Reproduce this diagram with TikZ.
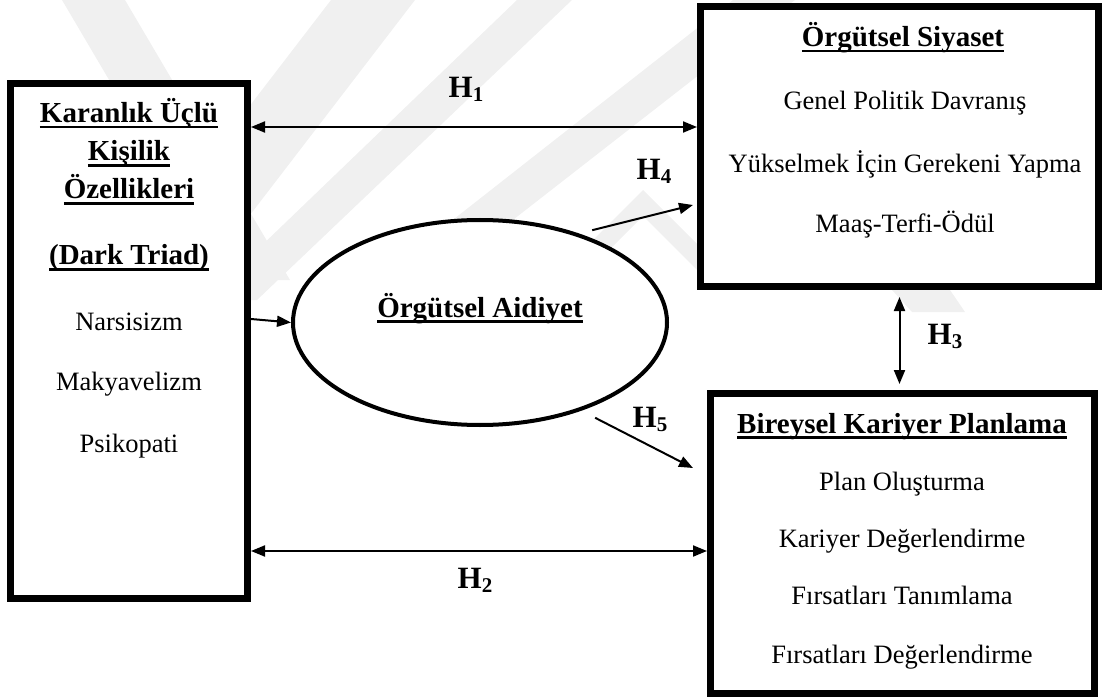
\documentclass[tikz,border=0pt]{standalone}
\usepackage{fontspec}
\setmainfont{Liberation Serif}
\usetikzlibrary{shapes.geometric,arrows.meta,calc}

% underline drawn just below the baseline, crossing descenders
\newcommand\ulbar[1]{\setbox0\hbox{#1}\rlap{\rule[-5.5pt]{\wd0}{2.2pt}}\box0}
% hypothesis label with a lowered index
\newcommand\hlab[1]{H\raisebox{-4pt}{\fontsize{21}{21}\selectfont #1}}

\tikzset{
  framebox/.style={draw, line width=7pt, fill=white, rectangle, inner sep=0pt},
  oval/.style={draw, ellipse, line width=4pt, fill=white, inner sep=0pt},
  ttl/.style={font=\fontsize{29}{34}\selectfont\bfseries, anchor=base, inner sep=0pt},
  itm/.style={font=\fontsize{26.5}{32}\selectfont, anchor=base, inner sep=0pt},
  hyp/.style={font=\fontsize{31}{36}\selectfont\bfseries, anchor=base, inner sep=0pt},
  arr/.style={line width=2pt, -{Triangle[length=14pt,width=11pt]}},
  darr/.style={line width=2pt, {Triangle[length=14pt,width=11pt]}-{Triangle[length=14pt,width=11pt]}},
  wm/.style={fill=black!6, draw=none},
}

\begin{document}
\begin{tikzpicture}[x=1pt,y=-1pt]
\useasboundingbox (0,0) rectangle (1104,698);

% faint background watermark bands
\fill[wm] (62,0) -- (125,0) -- (290,280) -- (227,280) -- cycle;
\fill[wm] (331,0) -- (415,0) -- (250,215) -- (166,215) -- cycle;
\fill[wm] (517,0) -- (572,0) -- (257,300) -- (205,300) -- cycle;
\fill[wm] (733,0) -- (795,0) -- (500,230) -- (440,230) -- cycle;
\fill[wm] (585,248) -- (643,190) -- (697,244) -- (697,270) -- (643,216) -- (611,248) -- cycle;
\fill[wm] (892,290) -- (950,290) -- (965,312) -- (912,312) -- cycle;

% frames
\node[framebox, minimum width=237pt, minimum height=515pt] (L) at (129,341) {};
\node[framebox, minimum width=398pt, minimum height=280pt] (TR) at (899.5,146.5) {};
\node[framebox, minimum width=384pt, minimum height=300pt] (BR) at (902.5,543.5) {};
\node[oval, minimum width=374pt, minimum height=205pt] (A) at (480,322.5) {};

% left frame texts
\node[ttl] (l1) at (129,123) {\ulbar{Karanlık Üçlü}};
\node[ttl] (l2) at (129,161) {\ulbar{Kişilik}};
\node[ttl] (l3) at (129,199) {\ulbar{Özellikleri}};
\node[ttl] (l4) at (129,265) {\ulbar{(Dark Triad)}};
\node[itm] (l5) at (129,330) {Narsisizm};
\node[itm] (l6) at (129,390) {Makyavelizm};
\node[itm] (l7) at (129,452) {Psikopati};

% upper right frame texts
\node[ttl] (t1) at (903,47) {\ulbar{Örgütsel Siyaset}};
\node[itm] (t2) at (905,110) {Genel Politik Davranış};
\node[itm] (t3) at (905,173) {Yükselmek İçin Gerekeni Yapma};
\node[itm] (t4) at (905,233) {Maaş-Terfi-Ödül};

% lower right frame texts
\node[ttl] (b1) at (902,433) {\ulbar{Bireysel Kariyer Planlama}};
\node[itm] (b2) at (902,490) {Plan Oluşturma};
\node[itm] (b3) at (902,547) {Kariyer Değerlendirme};
\node[itm] (b4) at (902,604) {Fırsatları Tanımlama};
\node[itm] (b5) at (902,663) {Fırsatları Değerlendirme};

% mediator
\node[ttl] (a1) at (480,317) {\ulbar{Örgütsel Aidiyet}};

% connectors
\coordinate (y1) at (0,127);
\coordinate (y2) at (0,551);
\coordinate (y3) at (0,319);
\draw[darr] (y1 -| L.east) -- (y1 -| TR.west);
\draw[darr] (y2 -| L.east) -- (y2 -| BR.west);
\draw[arr] (y3 -| L.east) -- (A.west);
\draw[darr, shorten <=7pt, shorten >=6pt] (TR.south) -- (TR.south |- BR.north);
\draw[arr] ($(A.38)+(3,-7)$) -- ($(TR.west)+(-4,58.5)$);
\draw[arr] ($(A.-38)+(6,10)$) -- ($(BR.west)+(-14,-75.5)$);

% hypothesis labels
\node[hyp] (h1) at (466,98) {\hlab{1}};
\node[hyp] (h2) at (475,588) {\hlab{2}};
\node[hyp] (h3) at (945,344) {\hlab{3}};
\node[hyp] (h4) at (654,180) {\hlab{4}};
\node[hyp] (h5) at (650,427) {\hlab{5}};
\end{tikzpicture}
\end{document}
